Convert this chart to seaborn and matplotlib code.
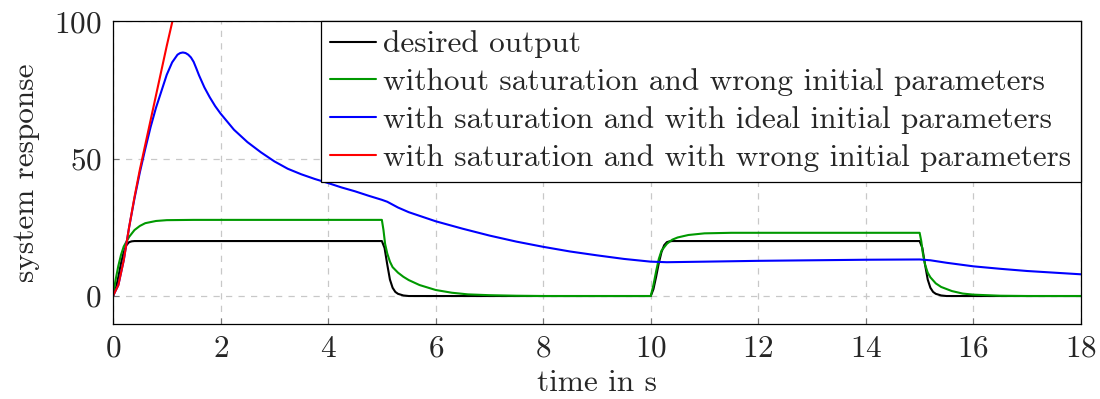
import numpy as np
import pandas as pd
import seaborn as sns
import matplotlib
matplotlib.use("Agg")
import matplotlib.pyplot as plt

# Reference trajectory (desired output)
t_desired = [0, 0.05, 0.1, 0.15, 0.2, 0.25, 0.3, 0.35, 0.4,
             5.0, 5.05, 5.1, 5.15, 5.2, 5.25, 5.3, 5.4, 5.5,
             10.0, 10.05, 10.1, 10.15, 10.2, 10.25, 10.3, 10.35, 10.4,
             15.0, 15.05, 15.1, 15.15, 15.2, 15.25, 15.3, 15.4, 15.5, 18.0]
y_desired = [0, 2.5, 7, 12, 16, 18.5, 19.6, 19.9, 20,
             20, 17.5, 11.5, 6, 3, 1.5, 0.8, 0.2, 0,
             0, 2.5, 7, 12, 16, 18.5, 19.6, 19.9, 20,
             20, 17.5, 11.5, 6, 3, 1.5, 0.8, 0.2, 0, 0]

# Without saturation, wrong initial parameters
t_nosat = [0, 0.05, 0.1, 0.15, 0.2, 0.3, 0.4, 0.5, 0.6, 0.8, 1.0, 1.5,
           5.0, 5.03, 5.06, 5.1, 5.15, 5.2, 5.3, 5.4, 5.5, 5.7, 6.0, 6.3, 6.6, 7.0, 7.5, 8.0,
           10.0, 10.05, 10.1, 10.15, 10.2, 10.3, 10.4, 10.5, 10.7, 11.0, 11.5,
           15.0, 15.03, 15.06, 15.1, 15.15, 15.2, 15.3, 15.4, 15.6, 15.8, 16.0, 16.5, 17.0, 18.0]
y_nosat = [0, 6, 11, 15, 18, 21.5, 24, 25.5, 26.5, 27.3, 27.6, 27.7,
           27.7, 24, 19, 15.5, 12.5, 10.5, 8.5, 7, 5.8, 4, 2.2, 1.2, 0.6, 0.3, 0.1, 0,
           0, 4, 9, 13.5, 16.5, 19, 20.5, 21.3, 22.2, 22.8, 23,
           23, 20, 15.5, 11.5, 8.5, 6.8, 4.6, 3.3, 1.8, 0.9, 0.5, 0.1, 0, 0]

# With saturation, ideal initial parameters
t_sat_ideal = [0, 0.1, 0.2, 0.3, 0.4, 0.5, 0.6, 0.7, 0.8, 0.9, 1.0, 1.1, 1.2, 1.25, 1.3,
               1.35, 1.4, 1.45, 1.5, 1.55, 1.6, 1.7, 1.8, 1.9, 2.0, 2.25, 2.5, 2.75, 3.0, 3.25,
               3.5, 3.75, 4.0, 4.25, 4.5, 4.75,
               5.0, 5.1, 5.3, 5.5, 6.0, 6.5, 7.0, 7.5, 8.0, 8.5, 9.0, 9.5, 10.0,
               10.3, 11.0, 12.0, 13.0, 14.0, 15.0, 15.2, 15.5, 16.0, 16.5, 17.0, 17.5, 18.0]
y_sat_ideal = [0, 4, 13, 25, 35.5, 45, 53.5, 61.5, 68.5, 74.5, 80.5, 85, 87.8, 88.4, 88.6,
               88.4, 87.8, 86.8, 85.2, 82.8, 80.3, 75.9, 72.3, 69.1, 66.4, 60.5, 56, 52.3, 49, 46.3,
               44.3, 42.6, 41.1, 39.5, 38.1, 36.5,
               35, 34.3, 32.2, 30.5, 27.2, 24.5, 22, 19.8, 17.9, 16.2, 14.8, 13.5, 12.5,
               12.3, 12.5, 12.8, 13.0, 13.2, 13.3, 13.0, 12.1, 10.8, 9.9, 9.1, 8.5, 7.9]

# With saturation, wrong initial parameters
t_sat_wrong = [0, 0.1, 0.2, 0.3, 0.4, 0.5, 0.6, 0.7, 0.8, 0.9, 1.0, 1.1, 1.15]
y_sat_wrong = [0, 4, 13, 25, 36, 46, 55, 64, 73, 82, 91, 99.5, 104]

series = [
    ("desired output", t_desired, y_desired, "black"),
    ("without saturation and wrong initial parameters", t_nosat, y_nosat, "#009900"),
    ("with saturation and with ideal initial parameters", t_sat_ideal, y_sat_ideal, "#0000ff"),
    ("with saturation and with wrong initial parameters", t_sat_wrong, y_sat_wrong, "#ff0000"),
]

x_ticks = [0, 2, 4, 6, 8, 10, 12, 14, 16, 18]
y_ticks = [0, 50, 100]

sns.set_style("ticks")
plt.rcParams["font.family"] = ["cmr10", "DejaVu Serif"]
plt.rcParams["axes.formatter.use_mathtext"] = True
plt.rcParams["mathtext.fontset"] = "cm"

FS = 22.5

fig = plt.figure(figsize=(11, 3.99), dpi=100)
ax = fig.add_axes([0.1027, 0.1892, 0.88, 0.7578])

for label, t, y, color in series:
    df = pd.DataFrame({"t": t, "y": y})
    sns.lineplot(data=df, x="t", y="y", ax=ax, color=color, label=label,
                 linewidth=1.5, sort=False, estimator=None)

ax.set_xlim(0, 18)
ax.set_ylim(-10, 100)
ax.set_xticks(x_ticks)
ax.set_yticks(y_ticks)
ax.tick_params(axis="both", direction="in", length=4, width=0.8, color="#777777",
               labelsize=FS, pad=8)
ax.grid(True, linestyle=(0, (5, 5)), color="#c8c8c8", linewidth=0.9)
for s in ax.spines.values():
    s.set_color("black")
    s.set_linewidth(0.9)

ax.set_xlabel("time in s", fontsize=FS, labelpad=5)
ax.set_ylabel("system response", fontsize=FS, labelpad=10)

leg = ax.legend(loc="upper right", fontsize=FS, frameon=True, fancybox=False,
                edgecolor="black", framealpha=1, borderaxespad=0,
                handlelength=1.45, handletextpad=0.25, labelspacing=0.32,
                borderpad=0.3)
leg.get_frame().set_linewidth(0.9)

fig.savefig("out.png", dpi=100)
